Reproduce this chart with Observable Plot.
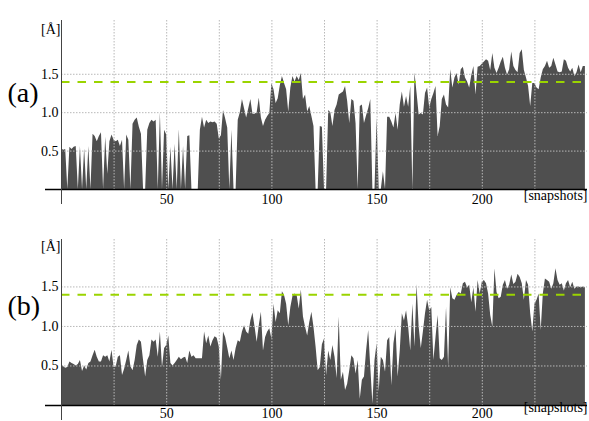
<!DOCTYPE html>
<html><head><meta charset="utf-8">
<script src="https://cdn.jsdelivr.net/npm/d3@7"></script>
<script src="https://cdn.jsdelivr.net/npm/@observablehq/plot@0.6"></script>
<style>
body{margin:0;background:#fff;}
#chart{width:589px;height:421px;overflow:hidden;}
#chart svg{display:block;overflow:visible;}
#chart svg, #chart svg text, #chart svg g{font-family:"Liberation Serif","Times New Roman",serif !important;}
</style>
</head><body><div id="chart"></div>
<script>
// RMSD per snapshot, panel (a)
const rmsdA = [
0.53,0.51,0.52,0,0.55,0.52,0.55,0.56,0,0.56,
0,0.53,0,0.56,0,0.72,0.69,0.62,0.69,0.74,
0,0.68,0.2,0.62,0.71,0.64,0.62,0.64,0.56,0.64,
0,0.71,0.64,0,0.85,0.9,0.93,0.81,0.72,0,
0,0.77,0.86,0.9,0.88,0.9,0,1.0,0,0.77,
0.71,0,0.55,0,0.59,0,0.78,0,0.56,0,
0.69,0.7,0,0,0,0,0.77,0.94,0.8,0.9,
0.86,0.88,0.87,0.88,0.85,0.66,0.7,1.03,0.92,0.8,
0,0.77,0,0,0.9,1.0,1.17,1.05,0.93,1.05,
1.17,0.98,0.98,1.0,1.19,0.93,0.82,0.9,0.95,0.99,
1.38,1.3,1.12,1.18,1.35,1.47,1.38,1.3,1.01,1.32,
1.47,1.4,1.47,1.42,1.51,1.17,1.23,1.01,1.08,0.95,
0.82,0,0,0.82,0.81,0,0,1.03,1.0,0.82,
1.03,1.1,1.23,1.25,1.27,1.34,1.15,0.86,1.17,1.15,
0.86,0,1.08,1.1,0.86,0.96,1.05,1.17,0,0,
0.93,0,0,0.23,0,0.94,0.94,0.88,0.8,0.99,
0.77,1.1,1.27,1.07,1.21,1.07,1.34,0,1.52,1.25,
0.97,0.99,0.97,1.25,1.32,1.06,1.17,1.25,1.34,0.69,
0.82,1.17,1.23,1.1,1.06,1.56,1.32,1.45,1.51,1.36,
1.56,1.59,1.45,1.4,1.32,1.48,1.6,1.23,1.59,1.6,
1.63,1.66,1.69,1.67,1.55,1.77,1.58,1.51,1.58,1.66,
1.72,1.58,1.49,1.56,1.79,1.6,1.55,1.52,1.77,1.82,
1.55,1.45,1.34,1.08,1.38,1.38,1.32,1.3,1.45,1.56,
1.6,1.67,1.58,1.6,1.71,1.62,1.53,1.52,1.53,1.69,
1.67,1.58,1.53,1.58,1.47,1.52,1.62,1.52,1.6,1.6
];
// RMSD per snapshot, panel (b)
const rmsdB = [
0.52,0.49,0.47,0.48,0.55,0.53,0.52,0.5,0.52,0.57,
0.43,0.5,0.45,0.53,0.55,0.63,0.7,0.61,0.55,0.55,
0.63,0.61,0.63,0.55,0.7,0.48,0.49,0.61,0.63,0.38,
0.46,0.57,0.69,0.49,0.44,0.57,0.76,0.83,0.8,0.57,
0.36,0.57,0.63,0.83,0.8,0.83,0.61,0.93,0.48,0.72,
0.76,0.88,0.53,0.5,0.53,0.57,0.61,0.58,0.6,0.61,
0.53,0.69,0.61,0.63,0.59,0.59,0.59,0.59,0.93,0.78,
0.88,0.74,0.82,0.87,0.85,0.74,0.32,0.93,0.86,0.73,
0.59,0.69,0.57,0.72,0.82,0.8,0.93,1.01,0.93,0.9,
1.07,1.17,0.99,0.8,1.01,1.18,0.69,0.86,0.93,0.97,
0.84,1.28,1.05,1.2,1.16,1.44,1.39,1.28,1.01,1.24,
1.38,1.41,1.39,1.22,1.46,1.12,0.99,0.88,1.05,1.18,
0.99,0.74,0.44,0.48,0.77,0.84,0.38,0.69,0.57,0.76,
0.61,0.34,1.12,0.32,0.42,0.19,0.27,0.44,0.63,0.59,
0.4,0.57,0.08,0.32,0.36,0.69,0.95,0.48,0.02,0.57,
0.78,0.17,0.61,0.57,0.42,0.82,0.86,0.25,0.78,0.97,
0.36,0.69,1.16,1.07,1.2,0.99,0.69,1.28,0.74,1.53,
0.99,0.72,0.93,1.16,1.33,1.2,1.24,0.57,0.86,1.14,
0.59,0.57,0.61,1.24,0.48,1.49,1.35,1.33,1.39,1.43,
1.41,1.54,1.56,1.49,1.52,1.3,1.49,1.18,1.58,1.41,
1.56,1.58,1.54,1.41,1.14,0.99,1.73,1.43,1.35,1.37,
1.52,1.58,1.47,1.52,1.65,1.53,1.56,1.66,1.62,1.54,
1.33,1.58,1.52,1.16,0.93,1.28,1.33,1.41,0.95,1.41,
1.6,1.58,1.56,1.47,1.54,1.73,1.58,1.52,1.54,1.45,
1.54,1.58,1.49,1.56,1.47,1.5,1.5,1.49,1.5,1.49
];
const xTicks = [50, 100, 150, 200];
const xGrid = [25, 50, 75, 100, 125, 150, 175, 200, 225];
const yTicks = [0.5, 1.0, 1.5];
const threshold = 1.4;
const panelLabels = ["(a)", "(b)"];
const yUnit = "[Å]";
const xUnit = "[snapshots]";

const FONT = "'Liberation Serif', 'Times New Roman', serif";

function panel(values, label, cfg) {
  const data = values.map((v, i) => ({i, v}));
  return Plot.plot({
    width: 589,
    height: cfg.height,
    marginLeft: 61,
    marginRight: 2,
    marginTop: cfg.top,
    marginBottom: cfg.bottom,
    x: {domain: [0, 250]},
    y: {domain: [0, cfg.ymax]},
    style: {fontFamily: FONT, fontSize: "14px", color: "#000", background: "#fff", overflow: "visible"},
    marks: [
      Plot.areaY(data, {x: "i", y: "v", fill: "#4f4f4f"}),
      Plot.ruleX(xGrid, {stroke: "#b8b8b8", strokeWidth: 1, strokeDasharray: "1.5,1.5"}),
      Plot.ruleY(yTicks, {stroke: "#b8b8b8", strokeWidth: 1, strokeDasharray: "1.5,1.5"}),
      Plot.ruleY([threshold], {stroke: "#9ad400", strokeWidth: 2, strokeDasharray: "8.5,8"}),
      Plot.ruleY([0], {stroke: "#000", strokeWidth: 1.5, insetLeft: -16}),
      Plot.ruleX([0], {stroke: "#444", strokeWidth: 1, insetBottom: -15}),
      Plot.axisX({ticks: xTicks, tickSize: 0, tickPadding: cfg.xPad, label: null, fontSize: 14}),
      Plot.axisY({ticks: yTicks, tickSize: 0, tickPadding: 3, tickFormat: ".1f", label: null, fontSize: 14}),
      Plot.text([label], {frameAnchor: "left", textAnchor: "start", dx: -54, dy: cfg.labelDy, fontSize: 28}),
      Plot.text([yUnit], {frameAnchor: "top-left", textAnchor: "end", dx: -1, dy: cfg.unitDy, fontSize: 14}),
      Plot.text([xUnit], {frameAnchor: "bottom-right", textAnchor: "end", dx: 0, dy: cfg.snapDy, fontSize: 14})
    ]
  });
}

const root = document.getElementById("chart");
root.appendChild(panel(rmsdA, panelLabels[0], {height: 210, top: 20, bottom: 21, ymax: 2.2, labelDy: -12, unitDy: 3.5, snapDy: 10, xPad: 5}));
root.appendChild(panel(rmsdB, panelLabels[1], {height: 211, top: 29, bottom: 16, ymax: 2.1, labelDy: -16, unitDy: 2, snapDy: 6, xPad: 3}));
</script>
</body></html>
